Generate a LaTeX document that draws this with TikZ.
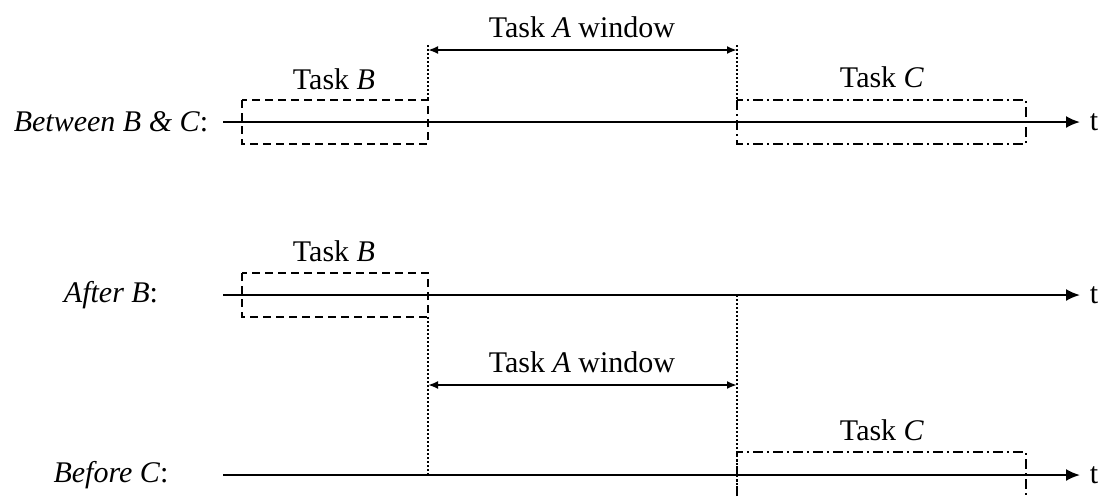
\documentclass[tikz,border=0pt,12pt]{standalone}
\usepackage{fontspec}
\setmainfont{Liberation Serif}
\usetikzlibrary{arrows.meta}

\tikzset{
  axis/.style={line width=0.8pt,-{Latex[length=5.6pt,width=4.8pt]}},
  boxB/.style={line width=0.7pt,dash pattern=on 3.2pt off 2pt},
  boxC/.style={line width=0.7pt,dash pattern=on 4pt off 1.6pt on 0.8pt off 1.6pt},
  guide/.style={line width=0.6pt,densely dotted},
  window/.style={line width=0.8pt,{Latex[length=4pt,width=3.2pt]}-{Latex[length=4pt,width=3.2pt]}},
}

\begin{document}
\begin{tikzpicture}[x=0.4pt,y=-0.4pt]
    \useasboundingbox (0,0) rectangle (1102,496);

    % Riga 1: tra B e C
    \node (lblBC) at (111,122) {\textit{Between B \& C}:};
    \coordinate (a1s) at (223,122);
    \coordinate (a1e) at (1080,122);
    \draw[axis] (a1s) -- (a1e);
    \node (t1) at (1094,122) {t};

    \draw[boxB] (242,100) rectangle (428,144); % Task B
    \node (tB1) at (334,79) {Task \textit{B}};
    \draw[boxC] (737,100) rectangle (1026,144); % Task C
    \node (tC1) at (882,77) {Task \textit{C}};

    \coordinate (w1l) at (428,50);
    \coordinate (w1r) at (737,50);
    \draw[guide] (428,45) -- (428,100);
    \draw[guide] (737,45) -- (737,100);
    \draw[window] (w1l) -- (w1r);
    \node (tA1) at (582,27) {Task \textit{A} window};

    % Riga 2: dopo B
    \node (lblB) at (111,295) {\textit{After B}:};
    \coordinate (a2s) at (223,295);
    \coordinate (a2e) at (1080,295);
    \draw[axis] (a2s) -- (a2e);
    \node (t2) at (1094,295) {t};

    \draw[boxB] (242,273) rectangle (428,317); % Task B
    \node (tB2) at (334,251) {Task \textit{B}};

    % Riga 3: prima di C
    \node (lblC) at (111,475) {\textit{Before C}:};
    \coordinate (a3s) at (223,475);
    \coordinate (a3e) at (1080,475);
    \draw[axis] (a3s) -- (a3e);
    \node (t3) at (1094,475) {t};

    \draw[guide] (428,317) -- (428,475);
    \draw[guide] (737,295) -- (737,496);

    \coordinate (w2l) at (428,385);
    \coordinate (w2r) at (737,385);
    \draw[window] (w2l) -- (w2r);
    \node (tA2) at (582,362) {Task \textit{A} window};

    \draw[boxC] (737,496) -- (737,452) -- (1026,452) -- (1026,496); % Task C
    \node (tC2) at (882,430) {Task \textit{C}};
\end{tikzpicture}
\end{document}
